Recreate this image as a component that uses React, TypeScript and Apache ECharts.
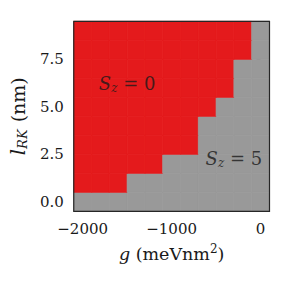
import React, { useEffect, useRef } from "react";
import * as echarts from "echarts";

const gValues = [-2000, -1800, -1600, -1400, -1200, -1000, -800, -600, -400, -200, 0];
const lValues = [0, 1, 2, 3, 4, 5, 6, 7, 8, 9];
// Sz of the ground state, one row per l value (l = 0 .. 9), one column per g value
const szRows = [
  [5, 5, 5, 5, 5, 5, 5, 5, 5, 5, 5],
  [0, 0, 0, 5, 5, 5, 5, 5, 5, 5, 5],
  [0, 0, 0, 0, 0, 5, 5, 5, 5, 5, 5],
  [0, 0, 0, 0, 0, 0, 0, 5, 5, 5, 5],
  [0, 0, 0, 0, 0, 0, 0, 5, 5, 5, 5],
  [0, 0, 0, 0, 0, 0, 0, 0, 5, 5, 5],
  [0, 0, 0, 0, 0, 0, 0, 0, 0, 5, 5],
  [0, 0, 0, 0, 0, 0, 0, 0, 0, 5, 5],
  [0, 0, 0, 0, 0, 0, 0, 0, 0, 0, 5],
  [0, 0, 0, 0, 0, 0, 0, 0, 0, 0, 5],
];
const gStep = 200;
const lStep = 1;
const xTicks = [-2000, -1000, 0];
const yTicks = [0, 2.5, 5, 7.5];
const annotationG = [-1500, -300];
const annotationL = [6.25, 2.3];
const annotationSz = [0, 5];

const FONT = "DejaVu Serif";
const phaseColor: Record<number, string> = { 0: "#e41a1c", 5: "#999999" };

export default function App() {
  const ref = useRef<HTMLDivElement>(null);
  useEffect(() => {
    if (!ref.current) return;
    const chart = echarts.init(ref.current, null, { renderer: "svg" });
    const cells: number[][] = [];
    lValues.forEach((l, i) => {
      gValues.forEach((g, j) => {
        cells.push([g, l, szRows[i][j]]);
      });
    });
    const annData = annotationG.map((g, i) => [g, annotationL[i], annotationSz[i]]);
    const textColor = "#1a1a1a";
    chart.setOption({
      animation: false,
      grid: {
        left: 66.5,
        right: 21.5,
        top: 21.3,
        bottom: 79.7,
        show: true,
        borderColor: "#262626",
        borderWidth: 1.2,
        backgroundColor: "transparent",
        z: 10,
      },
      xAxis: {
        type: "value",
        min: gValues[0] - gStep / 2,
        max: gValues[gValues.length - 1] + gStep / 2,
        splitLine: { show: false },
        axisLine: { show: false },
        axisTick: { show: true, length: 4, customValues: xTicks, lineStyle: { color: "#262626", width: 1 } },
        axisLabel: {
          customValues: xTicks,
          margin: 10,
          fontFamily: FONT,
          fontSize: 15,
          color: textColor,
          formatter: (v: number) => (v < 0 ? "\u2212" + Math.abs(v) : String(v)),
        },
        name: "{i|g} (meVnm{s|2})",
        nameLocation: "middle",
        nameGap: 32,
        nameTextStyle: {
          fontFamily: FONT,
          fontSize: 17.5,
          color: textColor,
          rich: {
            i: { fontFamily: FONT, fontSize: 17.5, fontStyle: "italic", color: textColor },
            s: { fontFamily: FONT, fontSize: 12, color: textColor, padding: [0, 0, 10, 0] },
          },
        },
      },
      yAxis: {
        type: "value",
        min: lValues[0] - lStep / 2,
        max: lValues[lValues.length - 1] + lStep / 2,
        splitLine: { show: false },
        axisLine: { show: false },
        axisTick: { show: true, length: 4, customValues: yTicks, lineStyle: { color: "#262626", width: 1 } },
        axisLabel: {
          customValues: yTicks,
          margin: 10,
          fontFamily: FONT,
          fontSize: 15,
          color: textColor,
          formatter: (v: number) => v.toFixed(1),
        },
        name: "{i|l}{sub|RK} (nm)",
        nameLocation: "middle",
        nameGap: 44,
        nameRotate: 90,
        nameTextStyle: {
          fontFamily: FONT,
          fontSize: 19,
          color: textColor,
          rich: {
            i: { fontFamily: FONT, fontSize: 20, fontStyle: "italic", color: textColor },
            sub: { fontFamily: FONT, fontSize: 13, fontStyle: "italic", color: textColor, padding: [9, 1, 0, 0] },
          },
        },
      },
      series: [
        {
          type: "custom",
          data: cells,
          renderItem: (params: any, api: any) => {
            const g = api.value(0);
            const l = api.value(1);
            const sz = api.value(2);
            const p0 = api.coord([g - gStep / 2, l + lStep / 2]);
            const p1 = api.coord([g + gStep / 2, l - lStep / 2]);
            return {
              type: "rect",
              shape: { x: p0[0], y: p0[1], width: p1[0] - p0[0], height: p1[1] - p0[1] },
              style: { fill: phaseColor[sz], stroke: phaseColor[sz], lineWidth: 0.8 },
            };
          },
          silent: true,
          z: 1,
        },
        {
          type: "scatter",
          data: annData,
          symbolSize: 0,
          silent: true,
          z: 5,
          label: {
            show: true,
            position: "inside",
            formatter: (p: any) => "{i|S}{sub|z}{n| = " + p.value[2] + "}",
            rich: {
              i: { fontFamily: FONT, fontSize: 18, fontStyle: "italic", color: textColor },
              sub: { fontFamily: FONT, fontSize: 12, fontStyle: "italic", color: textColor, padding: [9, 0, 0, 0] },
              n: { fontFamily: FONT, fontSize: 18, color: textColor },
            },
          },
        },
      ],
    });
    return () => chart.dispose();
  }, []);
  return <div ref={ref} style={{ width: 291, height: 291, position: "absolute", left: 0, top: 0 }} />;
}
